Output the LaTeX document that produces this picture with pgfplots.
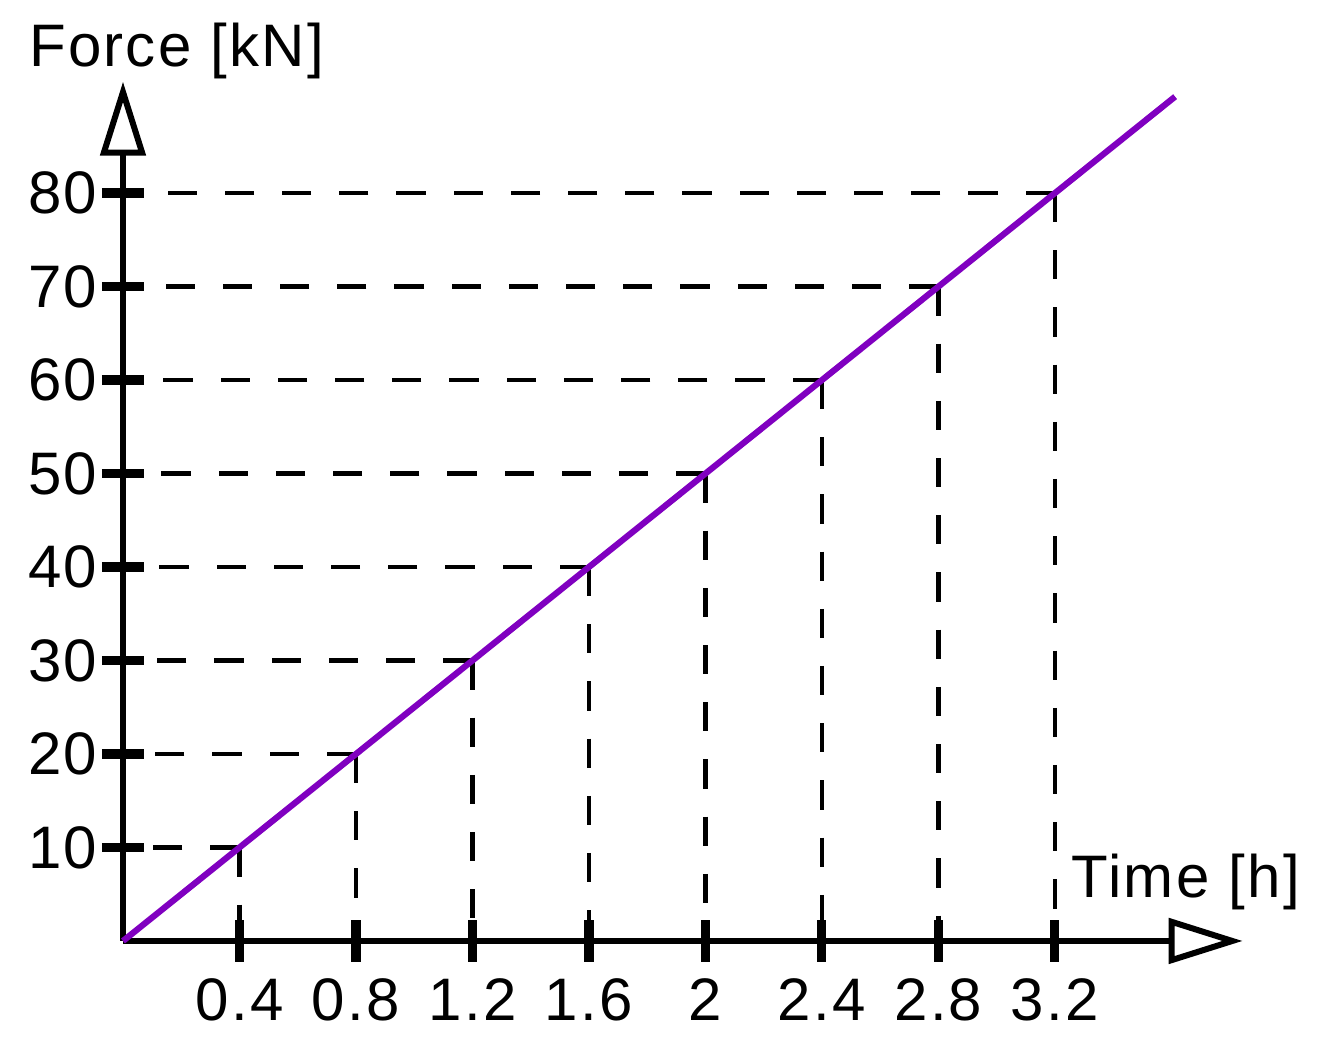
\documentclass[border=0pt]{standalone}
\usepackage{fontspec}
\setmainfont{Liberation Sans}[LetterSpace=3.8]
\usepackage{pgfplots}
\pgfplotsset{compat=1.18}
\usetikzlibrary{arrows.meta}
\definecolor{lineviolet}{RGB}{128,0,192}
\begin{document}
\begin{tikzpicture}
\begin{axis}[
  x=72.8pt, y=2.3375pt,
  xmin=0, xmax=3.845, ymin=0, ymax=91.9,
  axis lines=middle,
  axis line style={line width=1.7pt, -{Triangle[open, length=18.5pt, width=11.2pt, line width=1.5pt]}},
  xtick={0.4,0.8,1.2,1.6,2,2.4,2.8,3.2},
  xticklabels={0.4,0.8,1.2,1.6,2,2.4,2.8,3.2},
  ytick={10,20,30,40,50,60,70,80},
  tick align=center,
  major tick length=10.5pt,
  major tick style={line width=2.3pt, black},
  tick label style={font=\fontsize{15}{18}\selectfont},
  /pgf/number format/assume math mode=true,
  yticklabel style={anchor=east, inner sep=0pt, xshift=-1pt},
  xticklabel style={anchor=north, inner sep=0pt, yshift=-4pt},
  clip=false,
]
\path (axis cs:-0.4224,-12.94) rectangle (axis cs:4.1106,100.64);
\pgfplotsset{guide/.style={black, line width=1.1pt, dash pattern=on 7.3pt off 7pt, forget plot}}
\addplot[guide] coordinates {(0.4,10) (0,10)};
\addplot[guide] coordinates {(0.4,10) (0.4,0)};
\addplot[guide] coordinates {(0.8,20) (0,20)};
\addplot[guide] coordinates {(0.8,20) (0.8,0)};
\addplot[guide] coordinates {(1.2,30) (0,30)};
\addplot[guide] coordinates {(1.2,30) (1.2,0)};
\addplot[guide] coordinates {(1.6,40) (0,40)};
\addplot[guide] coordinates {(1.6,40) (1.6,0)};
\addplot[guide] coordinates {(2.0,50) (0,50)};
\addplot[guide] coordinates {(2.0,50) (2.0,0)};
\addplot[guide] coordinates {(2.4,60) (0,60)};
\addplot[guide] coordinates {(2.4,60) (2.4,0)};
\addplot[guide] coordinates {(2.8,70) (0,70)};
\addplot[guide] coordinates {(2.8,70) (2.8,0)};
\addplot[guide] coordinates {(3.2,80) (0,80)};
\addplot[guide] coordinates {(3.2,80) (3.2,0)};
\addplot[lineviolet, line width=1.55pt] coordinates {(0,0) (3.613,90.3)};
\node[anchor=base west, inner sep=0pt, font=\fontsize{15}{18}\selectfont] at (axis cs:3.255,4.6) {Time [h]};
\node[anchor=base west, inner sep=0pt, font=\fontsize{15}{18}\selectfont] at (axis cs:-0.325,93.48) {Force [kN]};
\end{axis}
\end{tikzpicture}
\end{document}
